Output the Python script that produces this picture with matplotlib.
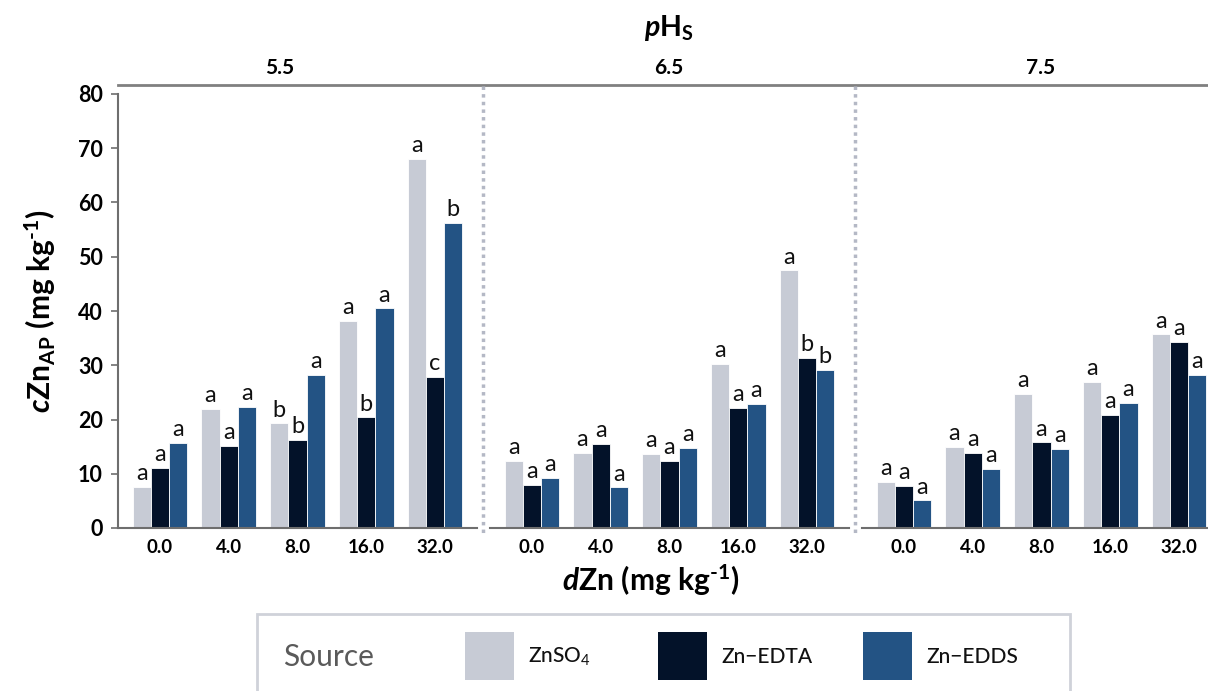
import matplotlib
matplotlib.use("Agg")
import matplotlib.pyplot as plt
from matplotlib.lines import Line2D
from matplotlib.patches import Rectangle
import numpy as np

plt.rcParams['font.family'] = ['Lato', 'DejaVu Sans']
plt.rcParams['mathtext.fontset'] = 'custom'
plt.rcParams['mathtext.rm'] = 'Lato'
plt.rcParams['mathtext.it'] = 'Lato:italic'
plt.rcParams['mathtext.bf'] = 'Lato:bold'
plt.rcParams['mathtext.bfit'] = 'Lato:italic:bold'

# ---- data ----
doses = ["0.0", "4.0", "8.0", "16.0", "32.0"]
ph_levels = ["5.5", "6.5", "7.5"]
sources = ["ZnSO$_4$", "Zn\u2212EDTA", "Zn\u2212EDDS"]
colors = ["#c7cbd5", "#031229", "#235384"]

znso4 = {"5.5": [7.6, 21.9, 19.3, 38.2, 68.1],
         "6.5": [12.3, 13.8, 13.7, 30.2, 47.5],
         "7.5": [8.5, 15.0, 24.7, 26.9, 35.7]}
zn_edta = {"5.5": [11.1, 15.1, 16.2, 20.4, 27.8],
           "6.5": [7.9, 15.5, 12.3, 22.1, 31.4],
           "7.5": [7.8, 13.8, 15.8, 20.9, 34.3]}
zn_edds = {"5.5": [15.7, 22.3, 28.2, 40.5, 56.3],
           "6.5": [9.3, 7.5, 14.8, 22.9, 29.1],
           "7.5": [5.1, 10.9, 14.6, 23.0, 28.2]}

letters_znso4 = {"5.5": ["a", "a", "b", "a", "a"],
                 "6.5": ["a", "a", "a", "a", "a"],
                 "7.5": ["a", "a", "a", "a", "a"]}
letters_edta = {"5.5": ["a", "a", "b", "b", "c"],
                "6.5": ["a", "a", "a", "a", "b"],
                "7.5": ["a", "a", "a", "a", "a"]}
letters_edds = {"5.5": ["a", "a", "a", "a", "b"],
                "6.5": ["a", "a", "a", "a", "b"],
                "7.5": ["a", "a", "a", "a", "a"]}

series = [znso4, zn_edta, zn_edds]
letters = [letters_znso4, letters_edta, letters_edds]

# ---- figure geometry (pixels) ----
W, H = 1208, 691
fig = plt.figure(figsize=(W / 100, H / 100), dpi=100)


def fx(px):
    return px / W


def fy(py):
    return 1 - py / H


panel_left = [118, 490, 862]
panel_w = 359
top_px, bot_px = 94, 528
axis_grey = "#6e6e6e"

x = np.arange(len(doses))
bw = 0.265
offsets = [-bw, 0, bw]

axes = []
for i, ph in enumerate(ph_levels):
    ax = fig.add_axes([fx(panel_left[i]), fy(bot_px), fx(panel_w),
                       (bot_px - top_px) / H])
    for s in range(3):
        vals = series[s][ph]
        bars = ax.bar(x + offsets[s], vals, width=bw, color=colors[s],
                      edgecolor="white", linewidth=0.6, zorder=2)
        for b, v, lab in zip(bars, vals, letters[s][ph]):
            ax.annotate(lab, (b.get_x() + b.get_width() / 2, v),
                        xytext=(0, 2), textcoords="offset points",
                        ha="center", va="bottom", fontsize=17,
                        color="#111111", annotation_clip=False)
    ax.set_xlim(-0.61, 4.61)
    ax.set_ylim(0, 80)
    ax.set_xticks(x)
    ax.set_xticklabels(doses, fontsize=13.5, fontweight="bold")
    ax.tick_params(axis="x", length=0, pad=8)
    for sp in ["top", "right"]:
        ax.spines[sp].set_visible(False)
    ax.spines["bottom"].set_color(axis_grey)
    ax.spines["bottom"].set_linewidth(1.5)
    if i == 0:
        ax.set_yticks(np.arange(0, 81, 10))
        ax.tick_params(axis="y", length=5, width=1.2, color=axis_grey,
                       labelsize=15.5, pad=6)
        for t in ax.get_yticklabels():
            t.set_fontweight("bold")
        ax.spines["left"].set_color(axis_grey)
        ax.spines["left"].set_linewidth(1.5)
    else:
        ax.spines["left"].set_visible(False)
        ax.set_yticks([])
    ax.patch.set_alpha(0)
    axes.append(ax)

# facet strip: top rule, labels, and dotted separators
fig.add_artist(Line2D([fx(118), 1.0], [fy(85), fy(85)], color="#808080",
                      linewidth=2))
strip_x = [280, 669, 1041]
for ph, sx in zip(ph_levels, strip_x):
    fig.text(fx(sx), fy(68), ph, ha="center", va="center", fontsize=15,
             fontweight="bold")
for sep in [483, 855]:
    fig.add_artist(Line2D([fx(sep), fx(sep)], [fy(86), fy(535)],
                          color="#b4b8c5", linewidth=2.5,
                          linestyle=(0, (1, 1.2))))

hy = "\u2010"
fig.text(fx(669), fy(28), r"$\mathbfit{p}\mathbf{H}_{\mathbf{S}}$",
         ha="center", va="center", fontsize=20.5)
fig.text(fx(651), fy(580),
         r"$\mathbfit{d}\mathbf{Zn\ (mg\ kg^{" + hy + r"1})}$",
         ha="center", va="center", fontsize=21.5)
fig.text(fx(40), fy(311),
         r"$\mathbfit{c}\mathbf{Zn}_{\mathbf{AP}}\mathbf{\ (mg\ kg^{" + hy
         + r"1})}$",
         ha="center", va="center", rotation=90, fontsize=21.5)

# legend box
fig.add_artist(Rectangle((fx(257), fy(700)), fx(1070 - 257), (700 - 614) / H,
                         transform=fig.transFigure, facecolor="white",
                         edgecolor="#cfd2d9", linewidth=2, clip_on=False))
fig.text(fx(283), fy(657), "Source", ha="left", va="center", fontsize=21.5,
         color="#5a5a5a")
key_x = [465, 658, 863]
for s in range(3):
    fig.add_artist(Rectangle((fx(key_x[s]), fy(680)), fx(49), 48 / H,
                             transform=fig.transFigure, facecolor=colors[s],
                             edgecolor="none"))
    fig.text(fx(key_x[s] + 63), fy(657), sources[s], ha="left", va="center",
             fontsize=15, fontweight="medium", color="#111111")

fig.savefig("out.png", dpi=100)
